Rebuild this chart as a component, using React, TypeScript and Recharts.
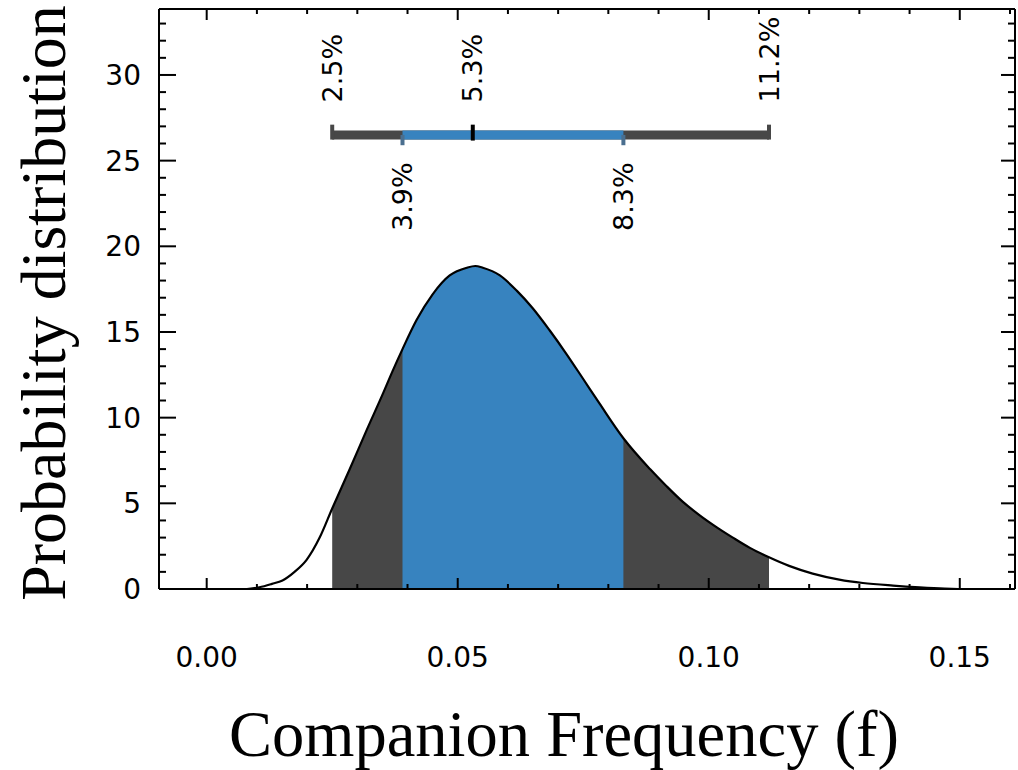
import React from 'react';
import { ComposedChart, Area, Line, XAxis, YAxis, ReferenceLine, Scatter, Label } from 'recharts';

// ---- data ----
const fVals = [
  -0.009, 0.0, 0.008, 0.0105, 0.013, 0.0151, 0.0175, 0.0199, 0.0225, 0.025,
  0.0285, 0.0319, 0.0351, 0.037, 0.039, 0.0418, 0.045, 0.0484, 0.0518, 0.0535,
  0.055, 0.0584, 0.0618, 0.0649, 0.0683, 0.0717, 0.0749, 0.0783, 0.083, 0.0883,
  0.0916, 0.0948, 0.0982, 0.1016, 0.1048, 0.1082, 0.112, 0.116, 0.1207, 0.126,
  0.1307, 0.1367, 0.142, 0.147, 0.152, 0.161,
];
const pdfVals = [
  0, 0, 0, 0.1, 0.3, 0.5, 1.0, 1.7, 3.0, 4.7,
  7.0, 9.3, 11.4, 12.7, 14.0, 15.7, 17.2, 18.3, 18.75, 18.85,
  18.75, 18.3, 17.4, 16.4, 15.1, 13.7, 12.3, 10.8, 8.8, 7.0,
  6.0, 5.1, 4.3, 3.6, 3.0, 2.4, 1.85, 1.35, 0.9, 0.55,
  0.35, 0.2, 0.1, 0.03, 0, 0,
];
const outerCI = [0.025, 0.112];
const innerCI = [0.039, 0.083];
const medianF = 0.053;
const topCILabels = ['2.5%', '5.3%', '11.2%'];
const bottomCILabels = ['3.9%', '8.3%'];

const xTicks = [0, 0.01, 0.02, 0.03, 0.04, 0.05, 0.06, 0.07, 0.08, 0.09, 0.1, 0.11, 0.12, 0.13, 0.14, 0.15, 0.16];
const xTickLabels = ['0.00', '0.05', '0.10', '0.15'];
const yTicks = [0, 1, 2, 3, 4, 5, 6, 7, 8, 9, 10, 11, 12, 13, 14, 15, 16, 17, 18, 19, 20, 21, 22, 23, 24, 25, 26, 27, 28, 29, 30, 31, 32, 33];
const yTickLabels = ['0', '5', '10', '15', '20', '25', '30'];

const xTitle = 'Companion Frequency (f)';
const yTitle = 'Probability distribution';

// ---- styling / layout constants ----
const X_DOMAIN: [number, number] = [-0.0095, 0.161];
const Y_DOMAIN: [number, number] = [0, 33.85];
const BAR_LEVEL = 26.5;
const CAP_TOP = 27.1;
const INNER_TICK_BOTTOM = 25.9;
const TOP_LABEL_LEVEL = 28.4;
const BOTTOM_LABEL_LEVEL = 24.9;
const DARK = '#474747';
const BLUE = '#3783bf';
const SMALL_FONT = '"DejaVu Sans", Verdana, sans-serif';
const SERIF = '"Liberation Serif", "Times New Roman", serif';

const inRange = (f: number, r: number[]) => f >= r[0] - 1e-9 && f <= r[1] + 1e-9;
const chartData = fVals.map((f, i) => ({
  f,
  pdf: pdfVals[i],
  dark: inRange(f, outerCI) ? pdfVals[i] : null,
  blue: inRange(f, innerCI) ? pdfVals[i] : null,
}));

const topLabelData = [
  { f: outerCI[0], y: TOP_LABEL_LEVEL, text: topCILabels[0] },
  { f: medianF, y: TOP_LABEL_LEVEL, text: topCILabels[1] },
  { f: outerCI[1], y: TOP_LABEL_LEVEL, text: topCILabels[2] },
];
const bottomLabelData = [
  { f: innerCI[0], y: BOTTOM_LABEL_LEVEL, text: bottomCILabels[0] },
  { f: innerCI[1], y: BOTTOM_LABEL_LEVEL, text: bottomCILabels[1] },
];

const isMajor = (v: number, step: number) => Math.abs(v / step - Math.round(v / step)) < 1e-6;

const BottomTick = (props: any) => {
  const { x, y, payload } = props;
  const v = payload.value;
  const major = isMajor(v, 0.05);
  return (
    <g>
      <line x1={x} x2={x} y1={y} y2={y - (major ? 11 : 5)} stroke="#000" strokeWidth={2} />
      {major && (
        <text x={x} y={y + 78} textAnchor="middle" fontFamily={SMALL_FONT} fontSize={28} fill="#000">
          {xTickLabels[Math.round(v / 0.05)]}
        </text>
      )}
    </g>
  );
};
const TopTick = (props: any) => {
  const { x, y, payload } = props;
  const major = isMajor(payload.value, 0.05);
  return <line x1={x} x2={x} y1={y} y2={y + (major ? 11 : 5)} stroke="#000" strokeWidth={2} />;
};
const LeftTick = (props: any) => {
  const { x, y, payload } = props;
  const v = payload.value;
  const major = isMajor(v, 5);
  return (
    <g>
      <line x1={x} x2={x + (major ? 17 : 7)} y1={y} y2={y} stroke="#000" strokeWidth={2} />
      {major && (
        <text x={x - 18} y={y + 10} textAnchor="end" fontFamily={SMALL_FONT} fontSize={28} fill="#000">
          {yTickLabels[Math.round(v / 5)]}
        </text>
      )}
    </g>
  );
};
const RightTick = (props: any) => {
  const { x, y, payload } = props;
  const major = isMajor(payload.value, 5);
  return <line x1={x} x2={x - (major ? 14 : 7)} y1={y} y2={y} stroke="#000" strokeWidth={2} />;
};

const RotatedLabel = (anchor: 'start' | 'end') => (props: any) => {
  const { cx, cy, payload } = props;
  return (
    <text
      x={cx}
      y={cy}
      dy="0.36em"
      transform={`rotate(-90 ${cx} ${cy})`}
      textAnchor={anchor}
      fontFamily={SMALL_FONT}
      fontSize={27}
      fill="#000"
    >
      {payload.text}
    </text>
  );
};

export default function App() {
  return (
    <div style={{ position: 'absolute', left: 0, top: 0, background: '#fff' }}>
      <ComposedChart
        width={1018}
        height={770}
        data={chartData}
        margin={{ top: 8, right: 2, bottom: 180, left: 158 }}
      >
        <XAxis
          xAxisId="b"
          dataKey="f"
          type="number"
          domain={X_DOMAIN}
          allowDataOverflow
          ticks={xTicks}
          interval={0}
          height={1}
          tickSize={0}
          tickMargin={0}
          tickLine={false}
          axisLine={{ stroke: '#000', strokeWidth: 2 }}
          tick={BottomTick}
        >
          <Label
            content={() => (
              <text x={564} y={756} textAnchor="middle" fontFamily={SERIF} fontSize={64.5} fill="#000">
                {xTitle}
              </text>
            )}
          />
        </XAxis>
        <XAxis
          xAxisId="t"
          orientation="top"
          dataKey="f"
          type="number"
          domain={X_DOMAIN}
          allowDataOverflow
          ticks={xTicks}
          interval={0}
          height={1}
          tickSize={0}
          tickMargin={0}
          tickLine={false}
          axisLine={{ stroke: '#000', strokeWidth: 2 }}
          tick={TopTick}
        />
        <YAxis
          yAxisId="l"
          type="number"
          domain={Y_DOMAIN}
          allowDataOverflow
          ticks={yTicks}
          interval={0}
          width={1}
          tickSize={0}
          tickMargin={0}
          tickLine={false}
          axisLine={{ stroke: '#000', strokeWidth: 2 }}
          tick={LeftTick}
        >
          <Label
            content={() => (
              <text
                x={65}
                y={303}
                transform="rotate(-90 65 303)"
                textAnchor="middle"
                fontFamily={SERIF}
                fontSize={64}
                fill="#000"
              >
                {yTitle}
              </text>
            )}
          />
        </YAxis>
        <YAxis
          yAxisId="r"
          orientation="right"
          type="number"
          domain={Y_DOMAIN}
          allowDataOverflow
          ticks={yTicks}
          interval={0}
          width={1}
          tickSize={0}
          tickMargin={0}
          tickLine={false}
          axisLine={{ stroke: '#000', strokeWidth: 2 }}
          tick={RightTick}
        />

        <Area
          xAxisId="b"
          yAxisId="l"
          dataKey="dark"
          type="monotone"
          fill={DARK}
          fillOpacity={1}
          stroke="none"
          connectNulls={false}
          baseValue={0}
          isAnimationActive={false}
          dot={false}
          activeDot={false}
        />
        <Area
          xAxisId="b"
          yAxisId="l"
          dataKey="blue"
          type="monotone"
          fill={BLUE}
          fillOpacity={1}
          stroke="none"
          connectNulls={false}
          baseValue={0}
          isAnimationActive={false}
          dot={false}
          activeDot={false}
        />
        <Line
          xAxisId="b"
          yAxisId="l"
          dataKey="pdf"
          type="monotone"
          stroke="#000"
          strokeWidth={2.2}
          dot={false}
          activeDot={false}
          isAnimationActive={false}
        />

        {/* credible-interval bar */}
        <ReferenceLine
          xAxisId="b"
          yAxisId="l"
          segment={[{ x: outerCI[0], y: BAR_LEVEL }, { x: outerCI[1], y: BAR_LEVEL }]}
          stroke={DARK}
          strokeWidth={9}
          ifOverflow="visible"
        />
        <ReferenceLine
          xAxisId="b"
          yAxisId="l"
          segment={[{ x: innerCI[0], y: BAR_LEVEL }, { x: innerCI[1], y: BAR_LEVEL }]}
          stroke={BLUE}
          strokeWidth={9}
          ifOverflow="visible"
        />
        {outerCI.map((f, i) => (
          <ReferenceLine
            key={`oc${i}`}
            xAxisId="b"
            yAxisId="l"
            segment={[{ x: f, y: BAR_LEVEL - 0.27 }, { x: f, y: CAP_TOP }]}
            stroke={DARK}
            strokeWidth={4}
            ifOverflow="visible"
          />
        ))}
        {innerCI.map((f, i) => (
          <ReferenceLine
            key={`ic${i}`}
            xAxisId="b"
            yAxisId="l"
            segment={[{ x: f, y: BAR_LEVEL }, { x: f, y: INNER_TICK_BOTTOM }]}
            stroke="#4a6f8f"
            strokeWidth={4}
            ifOverflow="visible"
          />
        ))}
        <ReferenceLine
          xAxisId="b"
          yAxisId="l"
          segment={[{ x: medianF, y: BAR_LEVEL - 0.33 }, { x: medianF, y: CAP_TOP }]}
          stroke="#000"
          strokeWidth={4}
          ifOverflow="visible"
        />

        <Scatter
          xAxisId="b"
          yAxisId="l"
          data={topLabelData}
          dataKey="y"
          isAnimationActive={false}
          shape={RotatedLabel('start')}
        />
        <Scatter
          xAxisId="b"
          yAxisId="l"
          data={bottomLabelData}
          dataKey="y"
          isAnimationActive={false}
          shape={RotatedLabel('end')}
        />
      </ComposedChart>
    </div>
  );
}
